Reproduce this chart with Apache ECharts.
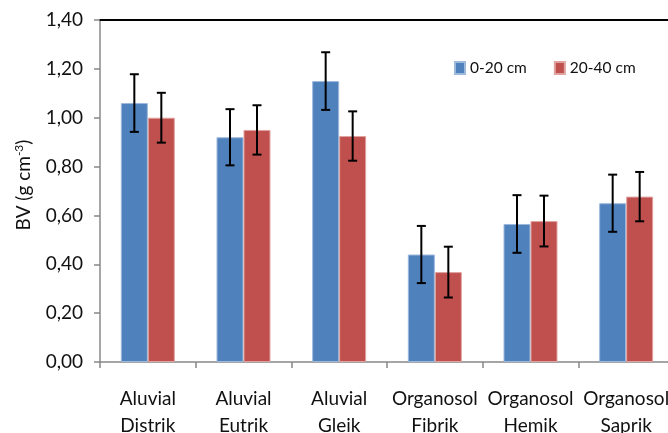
<!DOCTYPE html>
<html>
<head>
<meta charset="utf-8">
<script src="https://cdn.jsdelivr.net/npm/echarts@6/dist/echarts.min.js"></script>
<style>html,body{margin:0;padding:0;background:#fff}#c{width:668px;height:433px}</style>
</head>
<body>
<div id="c"></div>
<script>
var categories = ['Aluvial\nDistrik', 'Aluvial\nEutrik', 'Aluvial\nGleik', 'Organosol\nFibrik', 'Organosol\nHemik', 'Organosol\nSaprik'];
var seriesNames = ['0-20 cm', '20-40 cm'];
var bv0_20 = [1.06, 0.92, 1.15, 0.44, 0.565, 0.65];
var err0_20 = [0.118, 0.115, 0.118, 0.117, 0.118, 0.117];
var bv20_40 = [1.00, 0.95, 0.925, 0.368, 0.577, 0.677];
var err20_40 = [0.102, 0.101, 0.101, 0.104, 0.104, 0.101];
var yTicks = [0, 0.2, 0.4, 0.6, 0.8, 1.0, 1.2, 1.4];

var FONT = 'Lato';
var BAR_W = 27;

function errSeries(values, errs, offset) {
  return {
    type: 'custom',
    silent: true,
    z: 10,
    data: values.map(function (v, i) { return [i, v - errs[i], v + errs[i]]; }),
    renderItem: function (params, api) {
      var lo = api.coord([api.value(0), api.value(1)]);
      var hi = api.coord([api.value(0), api.value(2)]);
      var x = lo[0] + offset;
      var cap = 4.5;
      var st = { stroke: '#000', lineWidth: 2 };
      return {
        type: 'group',
        children: [
          { type: 'line', shape: { x1: x, y1: lo[1], x2: x, y2: hi[1] }, style: st },
          { type: 'line', shape: { x1: x - cap, y1: lo[1], x2: x + cap, y2: lo[1] }, style: st },
          { type: 'line', shape: { x1: x - cap, y1: hi[1], x2: x + cap, y2: hi[1] }, style: st }
        ]
      };
    }
  };
}

var chart = echarts.init(document.getElementById('c'), null, { renderer: 'canvas' });
chart.setOption({
  animation: false,
  textStyle: { fontFamily: FONT },
  grid: { left: 100, top: 20, width: 574, height: 342, containLabel: false, outerBoundsMode: 'none' },
  legend: {
    left: 454, top: 60, padding: 0,
    itemWidth: 10, itemHeight: 12, itemGap: 27,
    icon: 'rect',
    textStyle: { fontFamily: FONT, fontSize: 15.5, color: '#111' },
    data: seriesNames
  },
  xAxis: [{
    type: 'category',
    data: categories,
    axisLine: { lineStyle: { color: '#888', width: 1.5 } },
    axisTick: { show: true, length: 6, lineStyle: { color: '#888', width: 1.5 } },
    axisLabel: { fontFamily: FONT, fontSize: 19, color: '#111', lineHeight: 27, margin: 23, interval: 0 }
  }, {
    type: 'category',
    position: 'top',
    data: categories,
    axisLine: { lineStyle: { color: '#000', width: 2 } },
    axisTick: { show: false },
    axisLabel: { show: false }
  }],
  yAxis: {
    type: 'value',
    min: yTicks[0], max: yTicks[yTicks.length - 1], interval: 0.2,
    name: '{n|BV (g cm}{s|-3}{n|)}',
    nameLocation: 'middle',
    nameGap: 66,
    nameTextStyle: {
      padding: [0, 0, 0, 12],
      rich: {
        n: { fontFamily: FONT, fontSize: 19, color: '#111' },
        s: { fontFamily: FONT, fontSize: 12, color: '#111', verticalAlign: 'bottom', padding: [0, 0, 9, 0] }
      }
    },
    axisLine: { show: true, lineStyle: { color: '#888', width: 1.5 } },
    axisTick: { show: true, length: 6, lineStyle: { color: '#888', width: 1.5 } },
    splitLine: { show: false },
    axisLabel: {
      fontFamily: FONT, fontSize: 19, color: '#111', margin: 17,
      formatter: function (v) { return v.toFixed(2).replace('.', ','); }
    }
  },
  series: [{
    name: seriesNames[0], type: 'bar', data: bv0_20, barWidth: BAR_W, barGap: '0%',
    itemStyle: { color: '#4F81BD', borderColor: '#9DB9DC', borderWidth: 1 }
  }, {
    name: seriesNames[1], type: 'bar', data: bv20_40, barWidth: BAR_W, barGap: '0%',
    itemStyle: { color: '#C0504D', borderColor: '#E0A3A1', borderWidth: 1 }
  },
  errSeries(bv0_20, err0_20, -BAR_W / 2),
  errSeries(bv20_40, err20_40, BAR_W / 2)
  ]
});
</script>
</body>
</html>
